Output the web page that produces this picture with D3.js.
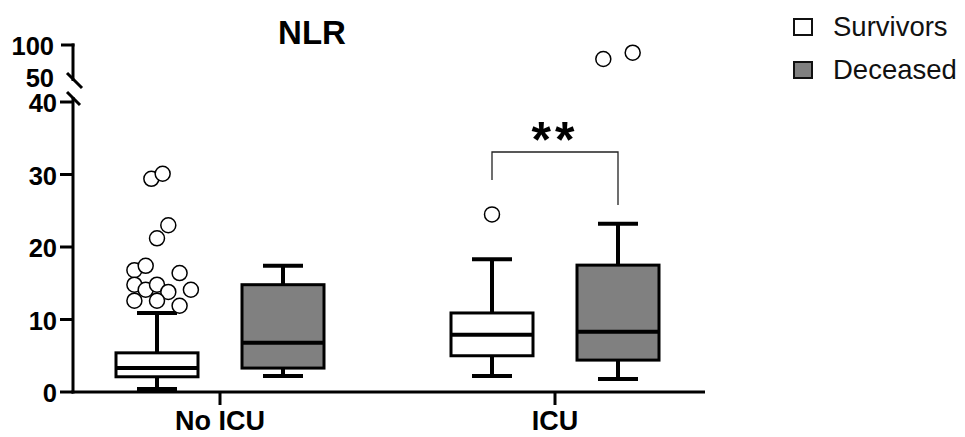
<!DOCTYPE html>
<html>
<head>
<meta charset="utf-8">
<script src="https://cdn.jsdelivr.net/npm/d3@7/dist/d3.min.js"></script>
<style>
  html, body { margin: 0; padding: 0; background: #fff; }
  svg { display: block; font-family: "Liberation Sans", Arial, sans-serif; }
</style>
</head>
<body>
<svg id="chart" width="965" height="437"></svg>
<script>
// ---- data ----
const groups = ["No ICU", "ICU"];
const series = ["Survivors", "Deceased"];
// [lower whisker, Q1, median, Q3, upper whisker] per group
const survivorsStats = [[0.4, 2.1, 3.3, 5.4, 10.9], [2.2, 5.0, 7.9, 10.9, 18.3]];
const deceasedStats  = [[2.2, 3.3, 6.8, 14.8, 17.4], [1.8, 4.4, 8.3, 17.5, 23.2]];
const survivorsOutliers = [[29.4, 30.1, 21.2, 23.0, 16.8, 17.4, 16.4, 14.8, 14.1, 14.8, 13.8, 14.1, 12.6, 12.6, 11.9], [24.5]];
const survivorsOutlierSlots = [[-0.5, 0.5, 0, 1, -2, -1, 2, -2, -1, 0, 1, 3, -2, 0, 2], [0]];
const deceasedOutliers = [[], [80, 89]];
const deceasedOutlierSlots = [[], [-1.3, 1.3]];
const lowTicks = [0, 10, 20, 30, 40];
const highTicks = [100];
const breakLabel = 50;
const title = "NLR";
const significance = "**";

// ---- layout ----
const svg = d3.select("#chart");
const axisX = 73;
const yLow = d3.scaleLinear().domain([0, 40]).range([392, 102]);
const yHigh = d3.scaleLinear().domain([50, 100]).range([80, 45]);
const yv = v => v > 45 ? yHigh(v) : yLow(v);
const xGroup = d3.scalePoint().domain(groups).range([220, 555]);
const xSeries = d3.scalePoint().domain(series).range([-63, 63]);
const boxHalf = 41, capHalf = 20, r = 7.5, slotW = 11.3;
const fills = { "Survivors": "#ffffff", "Deceased": "#808080" };

const statsBy = { "Survivors": survivorsStats, "Deceased": deceasedStats };
const outBy = { "Survivors": survivorsOutliers, "Deceased": deceasedOutliers };
const slotBy = { "Survivors": survivorsOutlierSlots, "Deceased": deceasedOutlierSlots };

const boxes = [];
groups.forEach((g, gi) => series.forEach(s => {
  const st = statsBy[s][gi];
  boxes.push({ g, s, lo: st[0], q1: st[1], med: st[2], q3: st[3], hi: st[4],
    outliers: outBy[s][gi].map((v, i) => ({ v, slot: slotBy[s][gi][i] })) });
}));

const bg = svg.append("g");
boxes.forEach(b => {
  const cx = xGroup(b.g) + xSeries(b.s);
  const g = bg.append("g");
  g.append("line").attr("x1", cx).attr("x2", cx).attr("y1", yLow(b.hi)).attr("y2", yLow(b.q3))
    .attr("stroke", "#000").attr("stroke-width", 4);
  g.append("line").attr("x1", cx).attr("x2", cx).attr("y1", yLow(b.q1)).attr("y2", yLow(b.lo))
    .attr("stroke", "#000").attr("stroke-width", 4);
  [b.hi, b.lo].forEach(v => g.append("line").attr("x1", cx - capHalf).attr("x2", cx + capHalf)
    .attr("y1", yLow(v)).attr("y2", yLow(v)).attr("stroke", "#000").attr("stroke-width", 4));
  g.append("rect").attr("x", cx - boxHalf).attr("width", boxHalf * 2)
    .attr("y", yLow(b.q3)).attr("height", yLow(b.q1) - yLow(b.q3))
    .attr("fill", fills[b.s]).attr("stroke", "#000").attr("stroke-width", 3);
  g.append("line").attr("x1", cx - boxHalf).attr("x2", cx + boxHalf)
    .attr("y1", yLow(b.med)).attr("y2", yLow(b.med)).attr("stroke", "#000").attr("stroke-width", 4);
  g.selectAll("circle").data(b.outliers).join("circle")
    .attr("cx", d => cx + d.slot * slotW).attr("cy", d => yv(d.v)).attr("r", r)
    .attr("fill", "#fff").attr("stroke", "#000").attr("stroke-width", 1.5);
});

// axes
const ax = svg.append("g").attr("stroke", "#000").attr("stroke-width", 3).attr("fill", "none");
ax.append("line").attr("x1", axisX).attr("x2", axisX).attr("y1", 97).attr("y2", yLow(0) + 1.5);
ax.append("line").attr("x1", axisX).attr("x2", axisX).attr("y1", yHigh(100) - 1.5).attr("y2", 81);
ax.append("line").attr("x1", axisX - 1.5).attr("x2", 705).attr("y1", yLow(0)).attr("y2", yLow(0));
ax.append("line").attr("x1", 67).attr("y1", 73).attr("x2", 82).attr("y2", 88);
ax.append("line").attr("x1", 67).attr("y1", 92).attr("x2", 80).attr("y2", 105);
lowTicks.forEach(t => ax.append("line").attr("x1", axisX - 13).attr("x2", axisX).attr("y1", yLow(t)).attr("y2", yLow(t)));
highTicks.forEach(t => ax.append("line").attr("x1", axisX - 12).attr("x2", axisX + 1.5).attr("y1", yHigh(t)).attr("y2", yHigh(t)));
groups.forEach(g => ax.append("line").attr("x1", xGroup(g)).attr("x2", xGroup(g)).attr("y1", yLow(0)).attr("y2", yLow(0) + 13));

const tl = svg.append("g").attr("font-weight", "bold").attr("font-size", 25.5).attr("fill", "#000")
  .attr("text-anchor", "end");
lowTicks.forEach(t => tl.append("text").attr("x", 57).attr("y", yLow(t) + 10).text(t));
highTicks.forEach(t => tl.append("text").attr("x", 54).attr("y", yHigh(t) + 10).text(t));
tl.append("text").attr("x", 54).attr("y", yHigh(breakLabel) + 7).text(breakLabel);

svg.append("g").selectAll("text").data(groups).join("text")
  .attr("x", d => xGroup(d)).attr("y", 430).attr("text-anchor", "middle")
  .attr("font-weight", "bold").attr("font-size", 27).text(d => d);

// title
svg.append("text").attr("x", 312).attr("y", 44).attr("text-anchor", "middle")
  .attr("font-weight", "bold").attr("font-size", 33).text(title);

// significance bracket
const bx1 = xGroup("ICU") + xSeries("Survivors"), bx2 = xGroup("ICU") + xSeries("Deceased");
svg.append("path").attr("d", `M${bx1},180V152H${bx2}V205`).attr("fill", "none")
  .attr("stroke", "#222").attr("stroke-width", 1.3);
svg.append("text").attr("x", (bx1 + bx2) / 2).attr("y", 157).attr("text-anchor", "middle")
  .attr("font-weight", "bold").attr("font-size", 50).attr("letter-spacing", 4).text(significance);

// legend
const lg = svg.append("g").attr("transform", "translate(793,18)");
series.forEach((s, i) => {
  const row = lg.append("g").attr("transform", `translate(0,${i * 43})`);
  row.append("rect").attr("x", 1).attr("y", 1).attr("width", 18).attr("height", 16)
    .attr("fill", fills[s]).attr("stroke", "#111").attr("stroke-width", 2);
  row.append("text").attr("x", 40).attr("y", 18).attr("font-size", 27.5).attr("fill", "#111").text(s);
});
</script>
</body>
</html>
